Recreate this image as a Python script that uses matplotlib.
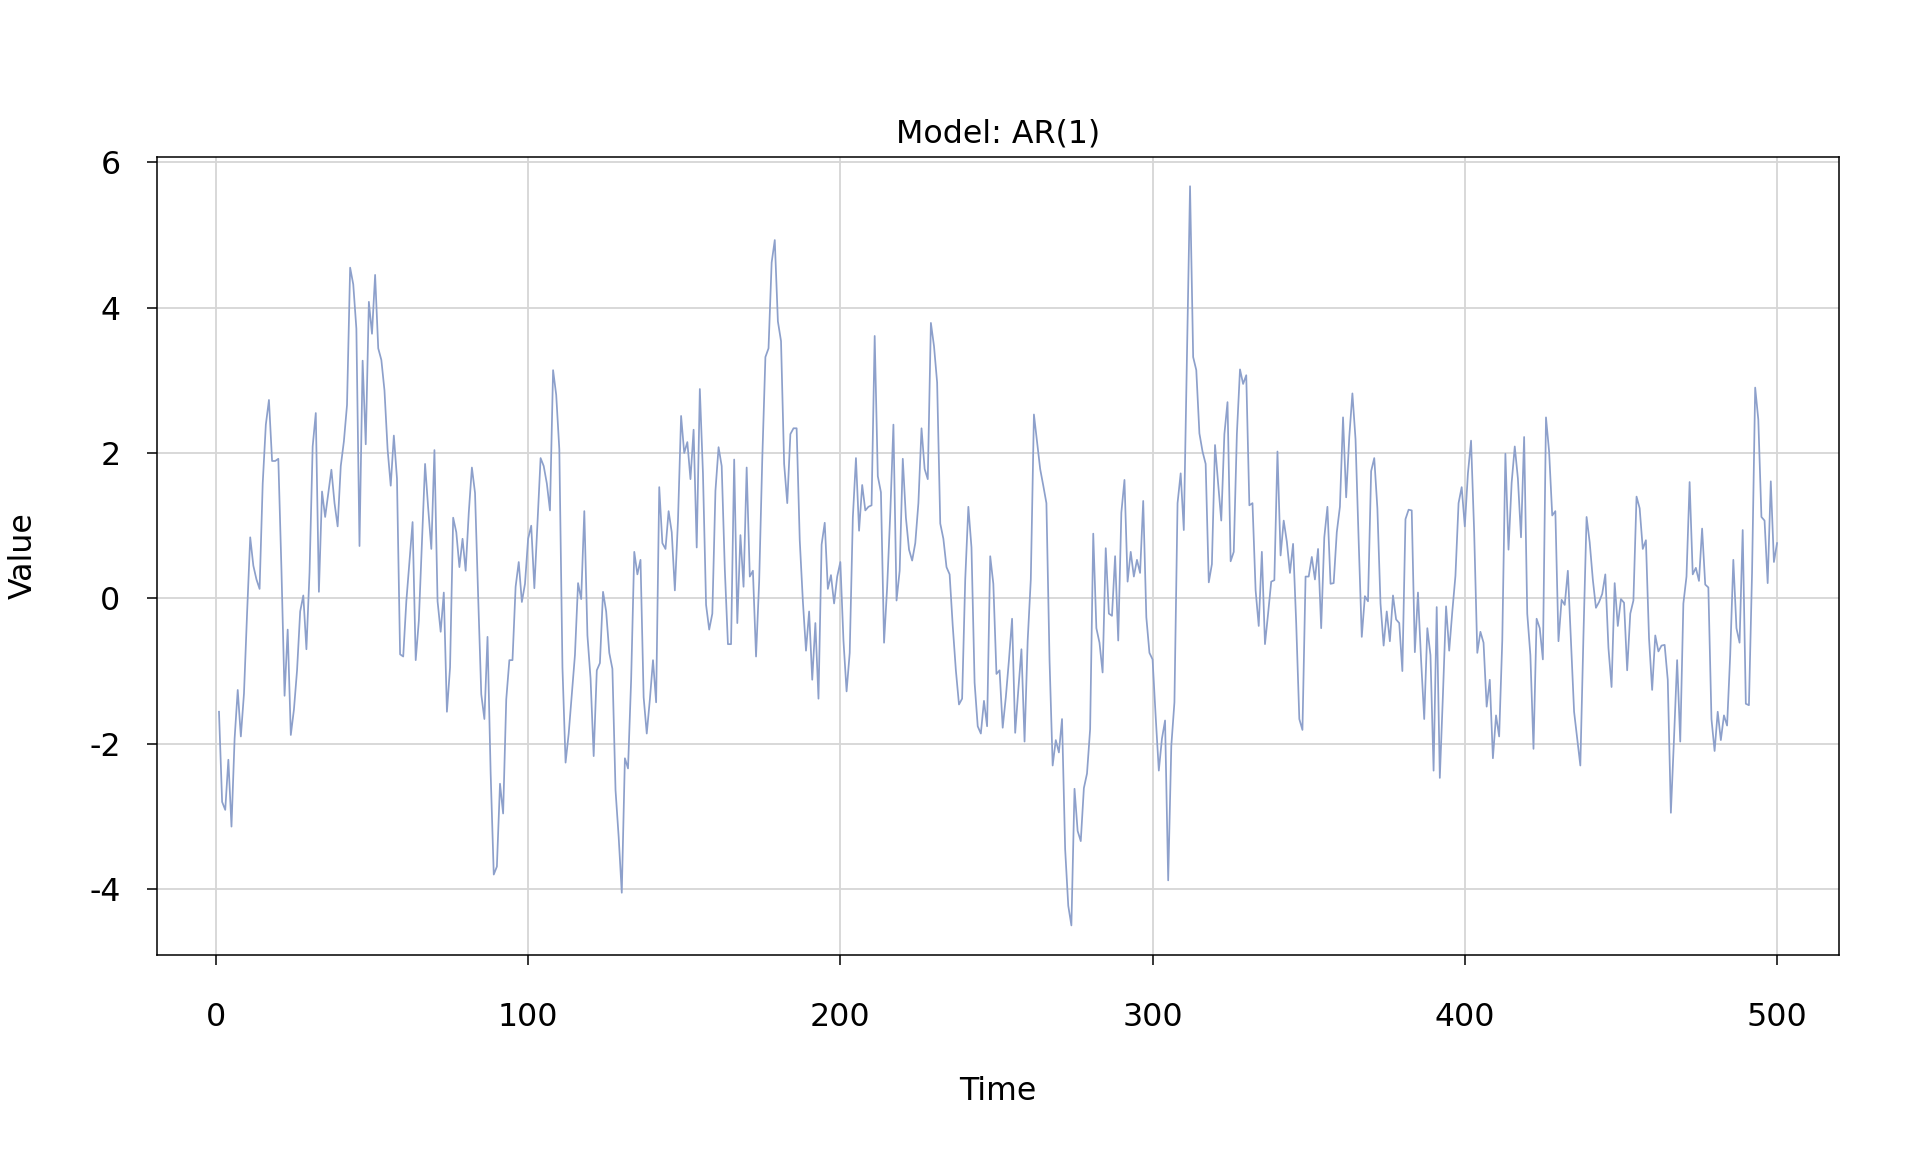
import numpy as np
import matplotlib
matplotlib.use("Agg")
import matplotlib.pyplot as plt

# AR(1) series, t = 1..500
values_001_042 = [
    -1.56, -2.80, -2.91, -2.22, -3.14, -1.93, -1.26, -1.90, -1.31, -0.20,
    0.84, 0.45, 0.26, 0.13, 1.58, 2.39, 2.73, 1.89, 1.89, 1.92,
    0.40, -1.34, -0.43, -1.88, -1.53, -0.99, -0.18, 0.04, -0.70, 0.36,
    2.09, 2.55, 0.09, 1.47, 1.12, 1.45, 1.77, 1.31, 0.99, 1.82,
    2.16, 2.66,
]
values_043_084 = [
    4.55, 4.32, 3.71, 0.72, 3.27, 2.12, 4.08, 3.64, 4.45, 3.44,
    3.28, 2.86, 2.05, 1.55, 2.24, 1.65, -0.77, -0.80, -0.04, 0.50,
    1.05, -0.85, -0.31, 0.77, 1.85, 1.24, 0.68, 2.04, -0.04, -0.46,
    0.08, -1.56, -0.95, 1.11, 0.91, 0.43, 0.82, 0.38, 1.18, 1.80,
    1.45, 0.03,
]
values_085_126 = [
    -1.32, -1.66, -0.53, -2.40, -3.80, -3.69, -2.55, -2.96, -1.39, -0.85,
    -0.85, 0.16, 0.50, -0.05, 0.20, 0.82, 1.00, 0.14, 1.04, 1.93,
    1.82, 1.58, 1.21, 3.14, 2.80, 2.05, -0.95, -2.26, -1.86, -1.32,
    -0.78, 0.21, -0.01, 1.20, -0.51, -1.10, -2.17, -0.99, -0.89, 0.09,
    -0.18, -0.75,
]
values_127_168 = [
    -0.97, -2.64, -3.28, -4.05, -2.20, -2.34, -1.12, 0.64, 0.33, 0.53,
    -1.36, -1.86, -1.39, -0.85, -1.43, 1.53, 0.76, 0.68, 1.20, 0.91,
    0.11, 1.07, 2.51, 2.00, 2.15, 1.64, 2.32, 0.70, 2.88, 1.72,
    -0.09, -0.43, -0.21, 1.48, 2.08, 1.82, 0.40, -0.63, -0.63, 1.91,
    -0.34, 0.87,
]
values_169_210 = [
    0.16, 1.80, 0.30, 0.38, -0.80, 0.23, 1.92, 3.32, 3.44, 4.62,
    4.93, 3.81, 3.54, 1.85, 1.31, 2.26, 2.34, 2.34, 0.80, -0.04,
    -0.72, -0.18, -1.12, -0.34, -1.38, 0.74, 1.04, 0.13, 0.32, -0.07,
    0.30, 0.50, -0.58, -1.28, -0.75, 1.11, 1.93, 0.93, 1.56, 1.21,
    1.26, 1.28,
]
values_211_252 = [
    3.61, 1.68, 1.46, -0.61, 0.16, 1.18, 2.39, -0.03, 0.38, 1.92,
    1.11, 0.67, 0.52, 0.76, 1.31, 2.34, 1.78, 1.64, 3.79, 3.47,
    2.97, 1.03, 0.82, 0.43, 0.33, -0.38, -0.99, -1.46, -1.38, 0.26,
    1.26, 0.70, -1.16, -1.76, -1.86, -1.41, -1.76, 0.58, 0.20, -1.04,
    -0.99, -1.78,
]
values_253_294 = [
    -1.36, -0.85, -0.28, -1.85, -1.26, -0.70, -1.97, -0.58, 0.26, 2.53,
    2.16, 1.78, 1.55, 1.31, -0.85, -2.30, -1.95, -2.12, -1.66, -3.45,
    -4.23, -4.50, -2.62, -3.20, -3.34, -2.61, -2.41, -1.80, 0.89, -0.41,
    -0.61, -1.02, 0.69, -0.21, -0.24, 0.58, -0.58, 1.18, 1.63, 0.23,
    0.64, 0.30,
]
values_295_336 = [
    0.53, 0.35, 1.34, -0.26, -0.75, -0.84, -1.63, -2.37, -1.93, -1.68,
    -3.88, -2.03, -1.43, 1.31, 1.72, 0.94, 3.30, 5.67, 3.32, 3.14,
    2.27, 2.02, 1.85, 0.22, 0.47, 2.11, 1.58, 1.07, 2.26, 2.70,
    0.51, 0.64, 2.26, 3.15, 2.95, 3.07, 1.28, 1.31, 0.11, -0.38,
    0.64, -0.63,
]
values_337_378 = [
    -0.21, 0.23, 0.25, 2.02, 0.59, 1.07, 0.78, 0.35, 0.75, -0.34,
    -1.66, -1.81, 0.30, 0.30, 0.57, 0.26, 0.68, -0.41, 0.84, 1.26,
    0.20, 0.21, 0.91, 1.26, 2.49, 1.39, 2.22, 2.82, 2.19, 0.80,
    -0.53, 0.03, -0.04, 1.75, 1.93, 1.24, -0.07, -0.65, -0.18, -0.59,
    0.04, -0.29,
]
values_379_420 = [
    -0.34, -1.00, 1.09, 1.22, 1.21, -0.74, 0.08, -0.85, -1.66, -0.41,
    -0.78, -2.37, -0.12, -2.47, -1.32, -0.11, -0.72, -0.18, 0.31, 1.31,
    1.53, 0.99, 1.72, 2.17, 0.91, -0.75, -0.46, -0.61, -1.49, -1.12,
    -2.20, -1.61, -1.90, -0.58, 1.99, 0.67, 1.59, 2.09, 1.65, 0.84,
    2.22, -0.21,
]
values_421_462 = [
    -0.78, -2.07, -0.28, -0.41, -0.84, 2.49, 2.02, 1.14, 1.20, -0.59,
    -0.02, -0.09, 0.38, -0.58, -1.56, -1.93, -2.30, -0.51, 1.12, 0.77,
    0.26, -0.13, -0.05, 0.06, 0.33, -0.68, -1.22, 0.21, -0.38, -0.01,
    -0.06, -0.99, -0.21, -0.03, 1.40, 1.24, 0.68, 0.80, -0.55, -1.26,
    -0.51, -0.73,
]
values_463_500 = [
    -0.65, -0.64, -1.12, -2.95, -1.93, -0.85, -1.97, -0.07, 0.30, 1.60,
    0.33, 0.42, 0.24, 0.96, 0.19, 0.15, -1.66, -2.10, -1.56, -1.95,
    -1.61, -1.75, -0.78, 0.53, -0.41, -0.61, 0.94, -1.45, -1.47, 0.36,
    2.90, 2.46, 1.12, 1.07, 0.21, 1.61, 0.50, 0.76,
]

series = np.array(
    values_001_042 + values_043_084 + values_085_126 + values_127_168
    + values_169_210 + values_211_252 + values_253_294 + values_295_336
    + values_337_378 + values_379_420 + values_421_462 + values_463_500
)
time = np.arange(1, len(series) + 1)

x_ticks = [0, 100, 200, 300, 400, 500]
y_ticks = [-4, -2, 0, 2, 4, 6]
y_tick_labels = ["-4", "-2", "0", "2", "4", "6"]

LINE_COLOR = "#8da0cb"
GRID_COLOR = "#d6d6d6"
FS = 22.8

plt.rcParams["font.family"] = ["DejaVu Sans"]

fig = plt.figure(figsize=(19.2, 11.52), dpi=100)
ax = fig.add_axes([0.0816, 0.171, 0.958 - 0.0816, 0.864 - 0.171])

# R style 4% axis extension
def padded(lo, hi, frac=0.04):
    d = (hi - lo) * frac
    return lo - d, hi + d

ax.set_xlim(*padded(time.min(), time.max()))
ax.set_ylim(*padded(series.min(), series.max()))

for xt in x_ticks:
    ax.axvline(xt, color=GRID_COLOR, lw=1.3, zorder=0)
for yt in y_ticks:
    ax.axhline(yt, color=GRID_COLOR, lw=1.3, zorder=0)

ax.plot(time, series, color=LINE_COLOR, lw=1.25, zorder=2)

ax.set_xticks(x_ticks)
ax.set_yticks(y_ticks)
ax.set_yticklabels(y_tick_labels)
ax.tick_params(axis="both", direction="out", length=7, width=1.1,
               labelsize=FS, color="black")
ax.tick_params(axis="x", pad=26.5)
ax.tick_params(axis="y", pad=19)
for sp in ax.spines.values():
    sp.set_linewidth(1.1)
    sp.set_color("black")

ax.set_title("Model: AR(1)", fontsize=FS, pad=10.5)
ax.set_xlabel("Time", fontsize=FS)
ax.set_ylabel("Value", fontsize=FS)
ax.xaxis.set_label_coords(0.5, -0.171)
ax.xaxis.label.set_verticalalignment("center")
ax.yaxis.set_label_coords(-0.0795, 0.5)
ax.yaxis.label.set_verticalalignment("center")

fig.savefig("out.png", dpi=100, facecolor="white")
